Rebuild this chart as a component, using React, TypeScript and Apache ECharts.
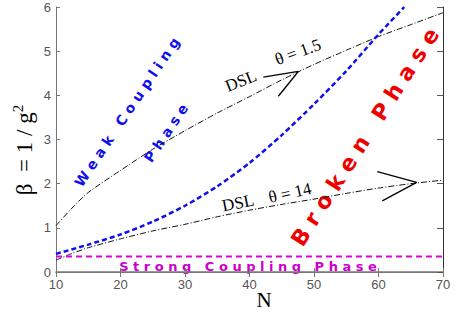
import React, { useEffect, useRef } from "react";
import * as echarts from "echarts";

const nGrid = [10, 12.5, 15, 20, 25, 30, 35, 40, 45, 50, 55, 60, 65, 70];
const dslUpper = [1.05, 1.45, 1.8, 2.3, 2.78, 3.2, 3.6, 3.97, 4.35, 4.7, 5.02, 5.33, 5.6, 5.87];
const dslLower = [0.27, 0.42, 0.55, 0.75, 0.93, 1.08, 1.25, 1.4, 1.53, 1.65, 1.78, 1.9, 2.0, 2.08];
const phaseN = [10, 15, 20, 25, 30, 35, 40, 45, 50, 55, 60, 64];
const phaseBoundary = [0.41, 0.62, 0.85, 1.14, 1.5, 1.94, 2.47, 3.1, 3.8, 4.55, 5.38, 6.0];
const strongN = [10, 70];
const strongBeta = [0.35, 0.35];
const arrowUpper: [number, number][] = [[42.14, 4.41], [47.57, 4.54], [44.47, 3.98]];
const arrowLower: [number, number][] = [[59.81, 2.27], [65.92, 2.03], [60.59, 1.61]];
const xTicks = [10, 20, 30, 40, 50, 60, 70];
const yTicks = [0, 1, 2, 3, 4, 5, 6];

const zip = (xs: number[], ys: number[]) => xs.map((x, i) => [x, ys[i]]);

export default function App() {
  const ref = useRef<HTMLDivElement>(null);
  useEffect(() => {
    document.body.style.margin = "0";
    const chart = echarts.init(ref.current!, null, { renderer: "svg" });
    const axisGray = "#777";
    const serif = "Liberation Serif";
    const option: any = {
      animation: false,
      backgroundColor: "#fff",
      grid: { left: 56, right: 15, top: 7, bottom: 48 },
      xAxis: [
        {
          type: "value", min: xTicks[0], max: xTicks[xTicks.length - 1], interval: 10,
          axisLine: { lineStyle: { color: axisGray, width: 1.5 } },
          axisTick: { inside: true, length: 4, lineStyle: { color: axisGray } },
          axisLabel: { color: "#555", fontSize: 13, fontFamily: "Liberation Sans", margin: 6 },
          splitLine: { show: false },
        },
        {
          type: "value", position: "top", min: 10, max: 70, interval: 10,
          axisLine: { show: true, lineStyle: { color: axisGray, width: 1 } },
          axisTick: { inside: true, length: 5, lineStyle: { color: axisGray } },
          axisLabel: { show: false }, splitLine: { show: false },
        },
      ],
      yAxis: [
        {
          type: "value", min: yTicks[0], max: yTicks[yTicks.length - 1], interval: 1,
          axisLine: { show: true, lineStyle: { color: axisGray, width: 1 } },
          axisTick: { show: true, inside: true, length: 4, lineStyle: { color: axisGray } },
          axisLabel: { color: "#555", fontSize: 13, fontFamily: "Liberation Sans", margin: 5 },
          splitLine: { show: false },
        },
        {
          type: "value", position: "right", min: 0, max: 6, interval: 1,
          axisLine: { show: true, lineStyle: { color: "#333", width: 1 } },
          axisTick: { show: true, inside: true, length: 6, lineStyle: { color: "#555" } },
          axisLabel: { show: false }, splitLine: { show: false },
        },
      ],
      series: [
        {
          type: "line", data: zip(nGrid, dslUpper), symbol: "none", smooth: 0.25,
          lineStyle: { color: "#111", width: 1, type: [6, 2, 1, 2] },
        },
        {
          type: "line", data: zip(nGrid, dslLower), symbol: "none", smooth: 0.25,
          lineStyle: { color: "#111", width: 1, type: [6, 2, 1, 2] },
        },
        {
          type: "line", data: zip(phaseN, phaseBoundary), symbol: "none", smooth: 0.25,
          lineStyle: { color: "#1010ee", width: 2.5, type: [5, 3] },
        },
        {
          type: "line", data: zip(strongN, strongBeta), symbol: "none",
          lineStyle: { color: "#dd00dd", width: 2, type: [6, 4] },
        },
        {
          type: "line", data: arrowUpper, symbol: "none",
          lineStyle: { color: "#000", width: 1.3 },
        },
        {
          type: "line", data: arrowLower, symbol: "none",
          lineStyle: { color: "#000", width: 1.3 },
        },
      ],
      graphic: [
        {
          type: "text", x: 24, y: 150, rotation: Math.PI / 2,
          style: {
            text: "{a|β  = 1 / g}{s|2}",
            align: "center", verticalAlign: "middle",
            rich: {
              a: { fontFamily: serif, fontSize: 23, fill: "#000" },
              s: { fontFamily: serif, fontSize: 15, fill: "#000", verticalAlign: "top", padding: [0, 0, 12, 0] },
            },
          },
        },
        {
          type: "text", x: 264, y: 300,
          style: { text: "N", fontFamily: serif, fontSize: 21, fill: "#000", align: "center", verticalAlign: "middle" },
        },
        {
          type: "text", x: 241, y: 81, rotation: 0.38,
          style: { text: "DSL", fontFamily: serif, fontSize: 17, fill: "#000", align: "center", verticalAlign: "middle" },
        },
        {
          type: "text", x: 298, y: 52, rotation: 0.35,
          style: { text: "θ = 1.5", fontFamily: serif, fontSize: 17, fill: "#000", align: "center", verticalAlign: "middle" },
        },
        {
          type: "text", x: 238, y: 203, rotation: 0.2,
          style: { text: "DSL", fontFamily: serif, fontSize: 17, fill: "#000", align: "center", verticalAlign: "middle" },
        },
        {
          type: "text", x: 290, y: 193, rotation: 0.22,
          style: { text: "θ = 14", fontFamily: serif, fontSize: 17, fill: "#000", align: "center", verticalAlign: "middle" },
        },
        {
          type: "text", x: 127, y: 112, rotation: 0.98,
          style: { text: "W e a k   C o u p l i n g", fontFamily: "DejaVu Sans", fontWeight: "bold", fontSize: 14, fill: "#1010ee", align: "center", verticalAlign: "middle" },
        },
        {
          type: "text", x: 166, y: 133, rotation: 0.98,
          style: { text: "P h a s e", fontFamily: "DejaVu Sans", fontWeight: "bold", fontSize: 14, fill: "#1010ee", align: "center", verticalAlign: "middle" },
        },
        {
          type: "text", x: 365, y: 137, rotation: 1.0,
          style: { text: "B r o k e n   P h a s e", fontFamily: "DejaVu Sans", fontWeight: "bold", fontSize: 22, fill: "#ee0000", align: "center", verticalAlign: "middle" },
        },
        {
          type: "text", x: 248, y: 266,
          style: { text: "S t r o n g   C o u p l i n g   P h a s e", fontFamily: "DejaVu Sans", fontWeight: "bold", fontSize: 13, fill: "#cc00cc", align: "center", verticalAlign: "middle" },
        },
      ],
    };
    chart.setOption(option);
    return () => chart.dispose();
  }, []);
  return <div ref={ref} style={{ width: 458, height: 320 }} />;
}
